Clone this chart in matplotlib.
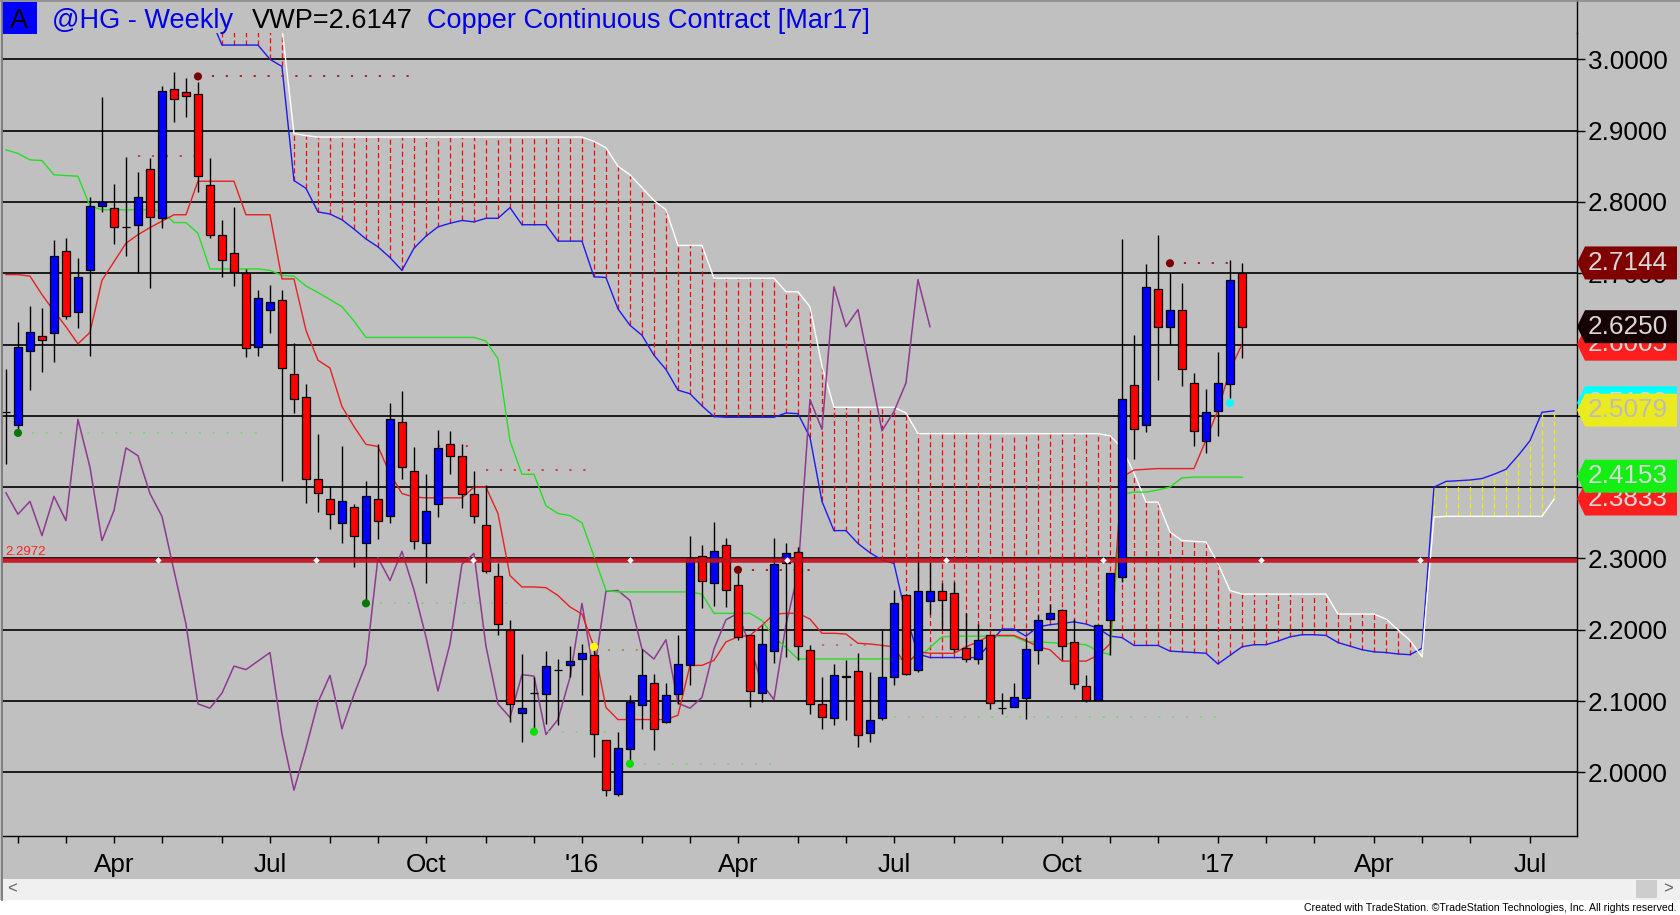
import numpy as np
import pandas as pd
import matplotlib
matplotlib.use("Agg")
import matplotlib.pyplot as plt
import matplotlib.transforms as mtrans
from matplotlib.patches import Rectangle, Polygon
from matplotlib.lines import Line2D
from matplotlib import font_manager

plt.rcParams['font.family'] = ['Liberation Sans', 'DejaVu Sans']

# ---------------- data ----------------
first_bar_date = '2015-01-30'   # weekly bars (Fridays)
n_future = 26                   # projected cloud bars

opens = [2.506, 2.487, 2.591, 2.612, 2.616, 2.731, 2.645, 2.705, 2.794, 2.792,
         2.765, 2.768, 2.846, 2.778, 2.958, 2.954, 2.951, 2.824, 2.753, 2.728,
         2.701, 2.597, 2.649, 2.663, 2.558, 2.526, 2.412, 2.384, 2.349, 2.372,
         2.322, 2.383, 2.360, 2.492, 2.422, 2.321, 2.377, 2.460, 2.443, 2.391,
         2.347, 2.276, 2.199, 2.083, 2.111, 2.110, 2.144, 2.151, 2.159, 2.165,
         2.046, 1.970, 2.033, 2.094, 2.125, 2.071, 2.110, 2.151, 2.304, 2.266,
         2.319, 2.263, 2.192, 2.111, 2.170, 2.293, 2.309, 2.171, 2.096, 2.076,
         2.133, 2.142, 2.055, 2.076, 2.134, 2.249, 2.144, 2.240, 2.255, 2.251,
         2.175, 2.159, 2.192, 2.090, 2.092, 2.104, 2.171, 2.215, 2.228, 2.183,
         2.121, 2.102, 2.213, 2.274, 2.543, 2.487, 2.678, 2.625, 2.649, 2.546,
         2.465, 2.507, 2.544, 2.701]
highs = [2.566, 2.631, 2.654, 2.651, 2.746, 2.750, 2.722, 2.807, 2.947, 2.825,
         2.863, 2.842, 2.862, 2.963, 2.982, 2.974, 2.968, 2.861, 2.774, 2.793,
         2.706, 2.677, 2.683, 2.677, 2.602, 2.544, 2.474, 2.402, 2.457, 2.377,
         2.409, 2.460, 2.518, 2.535, 2.456, 2.418, 2.480, 2.479, 2.460, 2.422,
         2.403, 2.293, 2.213, 2.166, 2.134, 2.170, 2.159, 2.177, 2.180, 2.176,
         2.046, 2.056, 2.108, 2.173, 2.138, 2.125, 2.192, 2.331, 2.319, 2.351,
         2.329, 2.280, 2.192, 2.206, 2.329, 2.322, 2.316, 2.178, 2.134, 2.152,
         2.158, 2.167, 2.141, 2.199, 2.256, 2.250, 2.296, 2.295, 2.265, 2.267,
         2.224, 2.208, 2.193, 2.111, 2.125, 2.190, 2.220, 2.236, 2.229, 2.215,
         2.136, 2.207, 2.279, 2.748, 2.613, 2.713, 2.754, 2.700, 2.686, 2.560,
         2.537, 2.589, 2.718, 2.714]
lows = [2.432, 2.480, 2.536, 2.561, 2.576, 2.636, 2.623, 2.584, 2.786, 2.741,
        2.724, 2.700, 2.679, 2.764, 2.912, 2.919, 2.814, 2.750, 2.695, 2.682,
        2.582, 2.584, 2.616, 2.409, 2.504, 2.378, 2.365, 2.341, 2.321, 2.288,
        2.240, 2.327, 2.349, 2.412, 2.313, 2.266, 2.358, 2.419, 2.371, 2.350,
        2.279, 2.192, 2.070, 2.042, 2.059, 2.068, 2.067, 2.134, 2.108, 2.021,
        1.967, 1.967, 2.015, 2.061, 2.031, 2.069, 2.096, 2.122, 2.231, 2.233,
        2.232, 2.186, 2.092, 2.098, 2.154, 2.162, 2.158, 2.082, 2.061, 2.066,
        2.073, 2.035, 2.042, 2.074, 2.122, 2.136, 2.141, 2.222, 2.199, 2.169,
        2.155, 2.152, 2.089, 2.082, 2.091, 2.075, 2.152, 2.214, 2.157, 2.117,
        2.098, 2.101, 2.165, 2.267, 2.440, 2.478, 2.550, 2.601, 2.542, 2.457,
        2.448, 2.472, 2.525, 2.581]
closes = [2.505, 2.597, 2.617, 2.607, 2.724, 2.640, 2.695, 2.794, 2.800, 2.765,
          2.765, 2.807, 2.779, 2.955, 2.945, 2.949, 2.836, 2.753, 2.718, 2.702,
          2.595, 2.665, 2.659, 2.567, 2.524, 2.411, 2.392, 2.362, 2.380, 2.332,
          2.387, 2.353, 2.495, 2.428, 2.325, 2.367, 2.455, 2.444, 2.391, 2.359,
          2.283, 2.208, 2.096, 2.090, 2.111, 2.149, 2.144, 2.156, 2.168, 2.054,
          1.975, 2.034, 2.098, 2.136, 2.061, 2.109, 2.152, 2.301, 2.269, 2.310,
          2.256, 2.190, 2.114, 2.180, 2.292, 2.307, 2.177, 2.096, 2.077, 2.137,
          2.135, 2.053, 2.074, 2.133, 2.237, 2.138, 2.254, 2.255, 2.241, 2.173,
          2.159, 2.186, 2.097, 2.090, 2.105, 2.173, 2.214, 2.223, 2.177, 2.124,
          2.102, 2.207, 2.279, 2.523, 2.481, 2.681, 2.625, 2.649, 2.565, 2.479,
          2.506, 2.546, 2.691, 2.625]

tenkan = [2.698, 2.698, 2.696, 2.670, 2.647, 2.625, 2.601, 2.617, 2.690, 2.716,
          2.742, 2.754, 2.764, 2.773, 2.782, 2.782, 2.829, 2.829, 2.829, 2.829,
          2.782, 2.782, 2.782, 2.692, 2.692, 2.620, 2.578, 2.567, 2.513, 2.485,
          2.460, 2.457, 2.419, 2.391, 2.386, 2.385, 2.385, 2.385, 2.385, 2.400,
          2.400, 2.363, 2.276, 2.260, 2.260, 2.259, 2.248, 2.232, 2.222, 2.176,
          2.091, 2.074, 2.074, 2.074, 2.074, 2.074, 2.080, 2.150, 2.150, 2.157,
          2.183, 2.190, 2.192, 2.206, 2.222, 2.223, 2.223, 2.215, 2.195, 2.195,
          2.194, 2.181, 2.180, 2.178, 2.176, 2.150, 2.169, 2.167, 2.167, 2.167,
          2.176, 2.183, 2.192, 2.192, 2.192, 2.185, 2.176, 2.172, 2.156, 2.156,
          2.156, 2.164, 2.180, 2.414, 2.424, 2.425, 2.426, 2.426, 2.426, 2.426,
          2.466, 2.508, 2.564, 2.600]
kijun = [2.873, 2.868, 2.859, 2.858, 2.838, 2.837, 2.836, 2.794, 2.789, 2.789,
         2.789, 2.789, 2.789, 2.787, 2.771, 2.771, 2.756, 2.706, 2.706, 2.706,
         2.706, 2.706, 2.704, 2.697, 2.696, 2.682, 2.673, 2.663, 2.653, 2.633,
         2.610, 2.610, 2.610, 2.610, 2.610, 2.610, 2.610, 2.610, 2.610, 2.610,
         2.605, 2.580, 2.465, 2.418, 2.418, 2.374, 2.363, 2.360, 2.350, 2.303,
         2.255, 2.253, 2.253, 2.253, 2.253, 2.253, 2.253, 2.253, 2.250, 2.223,
         2.223, 2.223, 2.223, 2.213, 2.190, 2.175, 2.159, 2.159, 2.159, 2.159,
         2.159, 2.159, 2.159, 2.159, 2.159, 2.159, 2.160, 2.175, 2.190, 2.191,
         2.191, 2.191, 2.191, 2.191, 2.191, 2.183, 2.183, 2.182, 2.181, 2.180,
         2.179, 2.170, 2.165, 2.390, 2.393, 2.393, 2.396, 2.400, 2.413, 2.414,
         2.414, 2.414, 2.414, 2.414]

# leading span (blue) starts at bar index 17, lagging span (white) at 18
span_blue_start = 17
span_blue = [3.060, 3.020, 3.020, 3.020, 3.020, 3.000, 2.990,
             2.830, 2.819, 2.786, 2.783, 2.775, 2.762, 2.748, 2.737, 2.722, 2.704,
             2.735, 2.752, 2.765, 2.770, 2.774, 2.772, 2.777, 2.777, 2.792, 2.768, 2.768, 2.768,
             2.745, 2.745, 2.745, 2.695, 2.694, 2.650, 2.627, 2.613, 2.585, 2.565, 2.536, 2.531, 2.514, 2.499,
             2.498, 2.498, 2.498, 2.498, 2.498, 2.504, 2.503, 2.470, 2.380, 2.339,
             2.339, 2.321, 2.308, 2.298, 2.293, 2.220, 2.166, 2.161, 2.161, 2.161,
             2.161, 2.161, 2.181, 2.201, 2.201, 2.191, 2.204, 2.207, 2.209, 2.211,
             2.208, 2.202, 2.191, 2.189, 2.178, 2.178, 2.178, 2.170, 2.169, 2.168,
             2.167, 2.152, 2.164, 2.176, 2.179, 2.179, 2.184, 2.190, 2.193, 2.193,
             2.192, 2.182, 2.177, 2.172, 2.169, 2.168, 2.166, 2.165, 2.174, 2.400,
             2.408, 2.409, 2.410, 2.412, 2.418, 2.425, 2.444, 2.465, 2.505, 2.507]
span_white_start = 18
span_white = [3.120, 3.120, 3.120, 3.120, 3.120, 3.045, 2.896, 2.893,
              2.891, 2.891, 2.891, 2.891, 2.891, 2.891, 2.891, 2.891, 2.891, 2.891,
              2.891, 2.891, 2.891, 2.891, 2.891, 2.891, 2.891, 2.891, 2.891, 2.891,
              2.891, 2.891, 2.891,
              2.885, 2.876, 2.850, 2.838, 2.820, 2.802, 2.789, 2.739, 2.739, 2.739, 2.693,
              2.693, 2.693, 2.693, 2.693, 2.693,
              2.674, 2.674, 2.653, 2.570, 2.512,
              2.512, 2.512, 2.512, 2.512, 2.512,
              2.504, 2.475,
              2.475, 2.475, 2.475, 2.475, 2.475, 2.475, 2.475, 2.475, 2.475, 2.475,
              2.475, 2.475, 2.475, 2.475, 2.475,
              2.472, 2.455, 2.420, 2.379, 2.379, 2.337, 2.325, 2.324, 2.323, 2.293, 2.255, 2.250,
              2.250, 2.250, 2.250, 2.250, 2.250, 2.250, 2.250,
              2.222, 2.222, 2.222, 2.222,
              2.215, 2.200, 2.185, 2.162,
              2.358,
              2.359, 2.359, 2.359, 2.359, 2.359, 2.359, 2.359, 2.359, 2.359,
              2.383]
chikou_shift = 26

ref_level = 2.2972
ref_marks = [12.7, 25.8, 38.9, 52.0, 65.1, 78.3, 91.4, 104.6, 117.8]

# swing dots: bar index, price, colour
dot_bars = [1, 16, 30, 44, 49, 52, 61, 97, 102]
dot_prices = [2.476, 2.976, 2.237, 2.057, 2.176, 2.012, 2.284, 2.714, 2.518]
dot_colors = ['#007a00', '#7a0000', '#007a00', '#00e000', '#ffff00',
              '#00e000', '#7a0000', '#7a0000', '#00ffff']
# dotted level lines: start bar, end bar, price, colour
lvl_start = [1, 16, 11, 30, 36, 40, 44, 49, 52, 61, 68, 74, 97, 102]
lvl_end = [21, 34, 16, 42, 39, 49, 50, 53, 64, 67, 74, 101, 102, 103]
lvl_price = [2.476, 2.976, 2.865, 2.237, 2.457, 2.424, 2.057, 2.171, 2.012,
             2.284, 2.178, 2.077, 2.714, 2.518]
lvl_color = ['#80d080', '#a01818', '#e03030', '#80d080', '#e03030', '#e03030',
             '#80d080', '#a08860', '#80d080', '#a01818', '#d06060', '#80d080',
             '#a01818', '#00c8c8']

price_ticks = [2.0, 2.1, 2.2, 2.3, 2.4, 2.5, 2.6, 2.7, 2.8, 2.9, 3.0]
hidden_tick_labels = [2.4, 2.5, 2.6]   # fully covered by the price tags

tag_values = [2.6005, 2.6250, 2.5183, 2.5079, 2.3833, 2.4153, 2.7144]
tag_fill = ['#ff1e1e', '#160202', '#00ffff', '#eaea1e', '#ff1e1e', '#14ee14', '#800000']
tag_text = ['#d8d8d8', '#d8d8d8', '#d8d8d8', '#bcbcbc', '#d8d8d8', '#d8d8d8', '#d8d8d8']

header_parts = ['@HG - Weekly', 'VWP=2.6147', 'Copper Continuous Contract [Mar17]']
footer = 'Created with TradeStation. \u00a9TradeStation Technologies, Inc. All rights reserved.'

# ---------------- figure ----------------
W, H = 1680, 915
BG = '#c0c0c0'
fig = plt.figure(figsize=(W / 100, H / 100), dpi=100)
fig.patch.set_facecolor(BG)


def fx(px):
    return px / W


def fy(py):
    return 1 - py / H


AX_L, AX_R, AX_T, AX_B = 2, 1577, 33, 836
ax = fig.add_axes([fx(AX_L), fy(AX_B), fx(AX_R) - fx(AX_L), fy(AX_T) - fy(AX_B)])
ax.set_facecolor(BG)
YMIN, YMAX = 1.9107, 3.0369
ax.set_xlim(-0.33, 130.92)
ax.set_ylim(YMIN, YMAX)

n = len(closes)
xb = np.arange(n)

# grid lines
for p in price_ticks:
    ax.axhline(p, color='black', lw=1.2, zorder=0.5)

# cloud
xb_blue = np.arange(span_blue_start, span_blue_start + len(span_blue))
xb_white = np.arange(span_white_start, span_white_start + len(span_white))
blue_map = dict(zip(xb_blue, span_blue))
white_map = dict(zip(xb_white, span_white))
for xi in sorted(set(blue_map) & set(white_map)):
    a, b = blue_map[xi], white_map[xi]
    col = '#ff0000' if b > a else '#f0f000'
    ax.vlines(xi, min(a, b), max(a, b), colors=col, lw=0.9,
              linestyles=(0, (4, 2.5)), zorder=1)

ax.plot(xb_blue, span_blue, color='#1c1cf0', lw=1.0, zorder=2)
ax.plot(xb_white, span_white, color='#ffffff', lw=1.0, zorder=2)

# chikou (closes shifted back)
ax.plot(xb[:n - chikou_shift], closes[chikou_shift:], color='#8e3a90', lw=1.1, zorder=2)
ax.plot(xb, kijun, color='#22e022', lw=1.0, zorder=2.2)
ax.plot(xb, tenkan, color='#e82020', lw=1.0, zorder=2.3)

# dotted levels & dots
for s, e, p, c in zip(lvl_start, lvl_end, lvl_price, lvl_color):
    ax.hlines(p, s, e, colors=c, lw=1.3, linestyles=(0, (1.2, 6.5)), zorder=2.4)

# candles
for i in range(n):
    o, h, l, c = opens[i], highs[i], lows[i], closes[i]
    ax.vlines(i, l, h, colors='black', lw=1.0, zorder=3)
    if c > o:
        fc = '#0000ff'
    elif c < o:
        fc = '#ff0000'
    else:
        fc = 'black'
    ax.add_patch(Rectangle((i - 0.3, min(o, c)), 0.6, abs(c - o), facecolor=fc,
                           edgecolor='black', lw=0.9, zorder=4))

ax.scatter(dot_bars, dot_prices, s=34, c=dot_colors, edgecolors='none', zorder=5)

# reference line
ax.axhline(ref_level, color='#c4101c', lw=3.3, alpha=0.92, zorder=6)
ax.plot(ref_marks, [ref_level] * len(ref_marks), 'D', color='white', ms=3.3, mec='none', zorder=7)
blend = mtrans.blended_transform_factory(fig.transFigure, ax.transData)
ppd = (YMAX - YMIN) / (AX_B - AX_T)
ax.text(fx(5), ref_level + 2.5 * ppd, '%.4f' % ref_level, transform=blend, color='#ff2020',
        fontsize=9.5, ha='left', va='bottom', zorder=7)

# axes / ticks
for s in ['left', 'top']:
    ax.spines[s].set_visible(False)
ax.spines['right'].set_color('black')
ax.spines['bottom'].set_color('black')
ax.spines['right'].set_linewidth(1.0)
ax.spines['bottom'].set_linewidth(1.0)

ax.yaxis.tick_right()
ax.set_yticks(price_ticks)
ax.set_yticklabels(['' if p in hidden_tick_labels else '%.4f' % p for p in price_ticks])
ax.tick_params(axis='y', direction='out', length=5.8, width=1, colors='black',
               labelsize=18.8, pad=2)

dates = pd.date_range(first_bar_date, periods=n + n_future, freq='W-FRI')
tick_pos, tick_lab = [], []
for i in range(1, len(dates)):
    if dates[i].month != dates[i - 1].month:
        tick_pos.append(i)
        m = dates[i].month
        if m == 1:
            tick_lab.append("'%02d" % (dates[i].year % 100))
        elif m in (4, 7, 10):
            tick_lab.append(dates[i].strftime('%b'))
        else:
            tick_lab.append('')
ax.set_xticks(tick_pos)
ax.set_xticklabels(tick_lab)
ax.tick_params(axis='x', direction='out', length=5, width=1, colors='black',
               labelsize=18.8, pad=7)

# price tags (each later tag drawn on top of the earlier ones)
for j, (v, fc, tc) in enumerate(zip(tag_values, tag_fill, tag_text)):
    hh = 16.5 * ppd
    pts = [(fx(1577), v), (fx(1585), v + hh), (fx(1677), v + hh),
           (fx(1677), v - hh), (fx(1585), v - hh)]
    ax.add_patch(Polygon(pts, closed=True, transform=blend, facecolor=fc,
                         edgecolor='none', clip_on=False, zorder=20 + 2 * j))
    ax.text(fx(1588), v, '%.4f' % v, transform=blend, color=tc, fontsize=18.8,
            ha='left', va='center', clip_on=False, zorder=21 + 2 * j)

# header
fig.add_artist(Rectangle((fx(2), fy(34)), fx(37) - fx(2), fy(2) - fy(34),
                         transform=fig.transFigure, facecolor='#0000ff', edgecolor='none'))
fig.text(fx(19.5), fy(20.5), 'A', color='black', fontsize=19.5, ha='center', va='center')
fig.text(fx(52), fy(20.5), header_parts[0], color='#0000e8', fontsize=19.5, ha='left', va='center')
fig.text(fx(252), fy(20.5), header_parts[1], color='black', fontsize=19.5, ha='left', va='center')
fig.text(fx(427), fy(20.5), header_parts[2], color='#0000e8', fontsize=19.5, ha='left', va='center')

# borders
fig.add_artist(Line2D([fx(AX_R), fx(AX_R)], [fy(AX_T), 1], transform=fig.transFigure,
                      color='black', lw=1.0))
fig.add_artist(Line2D([fx(1.5), fx(1.5)], [fy(900), 1], transform=fig.transFigure,
                      color='#7a7a7a', lw=1.3))
fig.add_artist(Line2D([0, 1], [fy(1.2), fy(1.2)], transform=fig.transFigure,
                      color='#8c8c8c', lw=1.2))

# scroll bar & footer
fig.add_artist(Rectangle((fx(2.5), fy(900)), 1 - fx(2.5), (900 - 879) / H, transform=fig.transFigure,
                         facecolor='#f0f0f0', edgecolor='none'))
fig.add_artist(Rectangle((0, 0), 1, (H - 900) / H, transform=fig.transFigure,
                         facecolor='white', edgecolor='none'))
fig.add_artist(Rectangle((fx(1636), fy(898)), 21 / W, 18 / H, transform=fig.transFigure,
                         facecolor='#cdcdcd', edgecolor='none'))
fig.text(fx(12), fy(889), '<', color='#606060', fontsize=12, ha='center', va='center')
fig.text(fx(1668), fy(889), '>', color='#606060', fontsize=12, ha='center', va='center')

narrow = None
try:
    font_manager.findfont('Liberation Sans Narrow', fallback_to_default=False)
    narrow = 'Liberation Sans Narrow'
except Exception:
    narrow = None
if narrow:
    fig.text(fx(1677), fy(908), footer, color='black', fontsize=9.2, ha='right',
             va='center', family=[narrow, 'DejaVu Sans'])
else:
    fig.text(fx(1677), fy(908), footer, color='black', fontsize=7.6, ha='right',
             va='center', family=['Liberation Sans', 'DejaVu Sans'])

fig.savefig('out.png', dpi=100, facecolor=fig.get_facecolor())
